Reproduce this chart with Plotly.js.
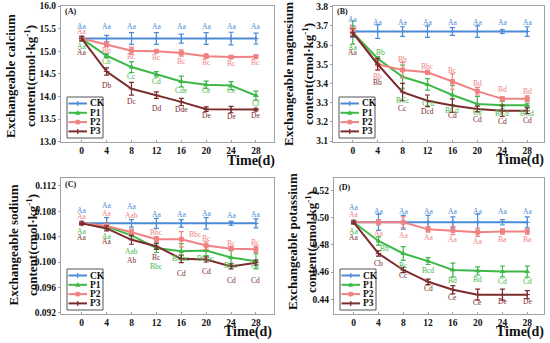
<!DOCTYPE html>
<html>
<head>
<meta charset="utf-8">
<script src="https://cdn.plot.ly/plotly-3.0.1.min.js"></script>
<style>html,body{margin:0;padding:0;background:#fff;}#chart{width:550px;height:343px;}</style>
</head>
<body>
<div id="chart"></div>
<script>
// ---------- DATA ----------
const time = [0, 4, 8, 12, 16, 20, 24, 28];
const seriesNames = ['CK', 'P1', 'P2', 'P3'];
const xTickLabels = ['0', '4', '8', '12', '16', '20', '24', '28'];

// (A) Exchangeable calcium
const caCK = [15.28, 15.28, 15.28, 15.28, 15.28, 15.28, 15.28, 15.28];
const caP1 = [15.28, 14.90, 14.65, 14.49, 14.33, 14.26, 14.24, 14.02];
const caP2 = [15.28, 15.15, 15.01, 15.00, 14.96, 14.89, 14.87, 14.88];
const caP3 = [15.28, 14.55, 14.17, 14.03, 13.88, 13.72, 13.71, 13.71];
const caCKerr = [0.05, 0.07, 0.13, 0.13, 0.10, 0.13, 0.14, 0.12];
const caP1err = [0.03, 0.04, 0.12, 0.06, 0.12, 0.08, 0.09, 0.10];
const caP2err = [0.03, 0.05, 0.08, 0.02, 0.07, 0.05, 0.02, 0.03];
const caP3err = [0.05, 0.08, 0.14, 0.07, 0.08, 0.05, 0.07, 0.03];
const caCKlab = ['Aa', 'Aa', 'Aa', 'Aa', 'Aa', 'Aa', 'Aa', 'Aa'];
const caP1lab = ['Aa', 'Cb', 'Cc', 'Cd', 'Cde', 'Ce', 'Ce', 'Cf'];
const caP2lab = ['Aa', 'Bb', 'Bc', 'Bc', 'Bc', 'Bc', 'Bc', 'Bc'];
const caP3lab = ['Aa', 'Db', 'Dc', 'Dd', 'Dde', 'De', 'De', 'De'];

// (B) Exchangeable magnesium
const mgCK = [3.67, 3.67, 3.67, 3.67, 3.67, 3.67, 3.67, 3.67];
const mgP1 = [3.665, 3.53, 3.435, 3.395, 3.34, 3.293, 3.287, 3.287];
const mgP2 = [3.665, 3.50, 3.47, 3.458, 3.41, 3.36, 3.32, 3.32];
const mgP3 = [3.665, 3.50, 3.355, 3.31, 3.285, 3.267, 3.258, 3.258];
const mgCKerr = [0.03, 0.035, 0.025, 0.03, 0.02, 0.03, 0.01, 0.025];
const mgP1err = [0.06, 0.01, 0.06, 0.03, 0.05, 0.04, 0.02, 0.01];
const mgP2err = [0.02, 0.03, 0.04, 0.01, 0.04, 0.02, 0.01, 0.015];
const mgP3err = [0.02, 0.03, 0.045, 0.03, 0.035, 0.015, 0.03, 0.015];
const mgCKlab = ['Aa', 'Aa', 'Aa', 'Aa', 'Aa', 'Aa', 'Aa', 'Aa'];
const mgP1lab = ['Aa', 'Bb', 'BCc', 'Ccd', 'BCd', 'Cd', 'BCd', 'BCd'];
const mgP2lab = ['Aa', 'Bb', 'Bb', 'Bbc', 'Bc', 'Bd', 'Bd', 'Bd'];
const mgP3lab = ['Aa', 'Bb', 'Cc', 'Dcd', 'Cd', 'Cd', 'Cd', 'Cd'];

// (C) Exchangeable sodium
const naCK = [0.1061, 0.1061, 0.1061, 0.1061, 0.1061, 0.1061, 0.1061, 0.1061];
const naP1 = [0.1061, 0.1056, 0.1042, 0.1022, 0.1017, 0.1018, 0.1007, 0.1001];
const naP2 = [0.1061, 0.1057, 0.1047, 0.1036, 0.1036, 0.1026, 0.1021, 0.1020];
const naP3 = [0.1061, 0.1053, 0.1035, 0.1025, 0.1005, 0.1004, 0.0993, 0.0999];
const naCKerr = [0.0003, 0.0009, 0.0006, 0.0008, 0.0006, 0.0009, 0.0003, 0.0007];
const naP1err = [0.0002, 0.0003, 0.0006, 0.0007, 0.0012, 0.0008, 0.0013, 0.0012];
const naP2err = [0.0002, 0.0003, 0.0005, 0.0004, 0.0012, 0.0006, 0.0003, 0.0005];
const naP3err = [0.0002, 0.0004, 0.0007, 0.0005, 0.0006, 0.0004, 0.0004, 0.0004];
const naCKlab = ['Aa', 'Aa', 'Aa', 'Aa', 'Aa', 'Aa', 'Aa', 'Aa'];
const naP1lab = ['Aa', 'Aa', 'Aab', 'Bbc', 'BCbc', 'BCbc', 'BCc', 'Cc'];
const naP2lab = ['Aa', 'Aa', 'Aab', 'Bbc', 'Bbc', 'Bc', 'Bc', 'Bc'];
const naP3lab = ['Aa', 'Aa', 'Ab', 'Bc', 'Cd', 'Cd', 'Cd', 'Cd'];

// (D) Exchangeable potassium
const kCK = [0.4965, 0.4965, 0.4965, 0.4965, 0.4965, 0.4965, 0.4965, 0.4965];
const kP1 = [0.4965, 0.4828, 0.4736, 0.4680, 0.4615, 0.4608, 0.4604, 0.4603];
const kP2 = [0.4965, 0.4965, 0.4965, 0.4913, 0.4905, 0.4892, 0.4897, 0.4897];
const kP3 = [0.4965, 0.4736, 0.4615, 0.4528, 0.4470, 0.4434, 0.4434, 0.4434];
const kCKerr = [0.0015, 0.006, 0.005, 0.005, 0.004, 0.006, 0.002, 0.004];
const kP1err = [0.001, 0.003, 0.005, 0.0025, 0.005, 0.003, 0.004, 0.004];
const kP2err = [0.001, 0.002, 0.004, 0.002, 0.003, 0.003, 0.002, 0.002];
const kP3err = [0.001, 0.002, 0.002, 0.002, 0.003, 0.004, 0.004, 0.003];
const kCKlab = ['Aa', 'Aa', 'Aa', 'Aa', 'Aa', 'Aa', 'Aa', 'Aa'];
const kP1lab = ['Aa', 'Bb', 'Bc', 'Bcd', 'Bd', 'Bd', 'Cd', 'Cd'];
const kP2lab = ['Aa', 'Aa', 'Aa', 'Aa', 'Aa', 'Aa', 'Ba', 'Ba'];
const kP3lab = ['Aa', 'Cb', 'Cc', 'Cd', 'Ce', 'Ce', 'De', 'De'];

// ---------- STYLE / LAYOUT (positions, not data) ----------
const colors = {CK: '#4a8ad6', P1: '#3fb84a', P2: '#f08282', P3: '#7c2c2c'};
const symbols = {CK: 'cross-thin-open', P1: 'triangle-up', P2: 'square', P3: 'cross-thin-open'};
const serif = 'Liberation Serif, Times New Roman, serif';
const W = 550, H = 343;

// label vertical offsets in px (positive = up) and horizontal offsets
const labelDy = {
  A: {CK: [12,12,12,12,12,12,12,12], P1: [-8,-6,-9,-7,-9,-6,-5,-8], P2: [7,-6,-6,-6,-8,-6,-6,-6], P3: [-14,-14,-13,-13,-8,-6,-7,-6]},
  B: {CK: [12,9,9,9,9,9,9,9], P1: [-15,6,-24,-19,-15.5,-8,-8,-8], P2: [5,-12,11,6,11,8,9,7], P3: [-20,-18,-16,-10.5,-10,-10,-11,-10]},
  C: {CK: [12.6,18,16.6,9,9,10,8,9], P1: [-7.7,-9.6,-16,-18,-7.7,-7.6,-8,-4], P2: [7,12,17,6.5,4.5,7.5,5.6,6.6], P3: [-14.4,-13.5,-21,-11.3,-14.5,-12,-14,-18]},
  D: {CK: [15,10.7,10.7,10.7,10.7,10.7,10.7,10.7], P1: [-9.3,-7.6,-12,-9,-10.5,-8.6,-9.7,-9.7], P2: [7.3,-11.5,-12.8,-8.3,-9.5,-9.7,-7.8,-7.8], P3: [-15,-10,-5.5,-7,-8,-8.3,-7.3,-7.3]}
};
const labelDx = {
  A: {}, B: {P1: [0,3,0,0,0,0,0,0]}, C: {P2: [0,0,0,0,14,0,0,0]}, D: {P1: [0,6,0,0,0,0,0,0]}
};

const panels = [
  {key: 'A', n: '', left: 61, right: 274, top: 6, bottom: 141.7, xr: [-3.33, 30.9], yr: [13, 16], tick0: 13, dtick: 0.5, fmt: '.1f',
   t1: 'Exchangeable calcium', t1x: 10, t2x: 30, tcy: 76, timeX: 251, timeY: 161, tagX: 63, tagY: 11.5,
   vals: {CK: caCK, P1: caP1, P2: caP2, P3: caP3}, errs: {CK: caCKerr, P1: caP1err, P2: caP2err, P3: caP3err},
   labs: {CK: caCKlab, P1: caP1lab, P2: caP2lab, P3: caP3lab}},
  {key: 'B', n: '2', left: 333, right: 544, top: 6, bottom: 141.7, xr: [-3.17, 30.7], yr: [3.097, 3.803], tick0: 3.1, dtick: 0.1, fmt: '.1f',
   t1: 'Exchangeable magnesium', t1x: 289, t2x: 308, tcy: 74, timeX: 519.5, timeY: 160, tagX: 335, tagY: 12,
   vals: {CK: mgCK, P1: mgP1, P2: mgP2, P3: mgP3}, errs: {CK: mgCKerr, P1: mgP1err, P2: mgP2err, P3: mgP3err},
   labs: {CK: mgCKlab, P1: mgP1lab, P2: mgP2lab, P3: mgP3lab}},
  {key: 'C', n: '3', left: 61, right: 274, top: 178, bottom: 313.7, xr: [-3.33, 30.9], yr: [0.09184, 0.11326], tick0: 0.092, dtick: 0.004, fmt: '.3f',
   t1: 'Exchangeable sodium', t1x: 12.5, t2x: 32, tcy: 245, timeX: 248, timeY: 332, tagX: 63, tagY: 184,
   vals: {CK: naCK, P1: naP1, P2: naP2, P3: naP3}, errs: {CK: naCKerr, P1: naP1err, P2: naP2err, P3: naP3err},
   labs: {CK: naCKlab, P1: naP1lab, P2: naP2lab, P3: naP3lab}},
  {key: 'D', n: '4', left: 334, right: 544, top: 178, bottom: 313.7, xr: [-3.17, 30.7], yr: [0.4294, 0.529], tick0: 0.44, dtick: 0.02, fmt: '.2f',
   t1: 'Exchangeable potassium', t1x: 292, t2x: 311, tcy: 242, timeX: 520, timeY: 332, tagX: 337, tagY: 187,
   vals: {CK: kCK, P1: kP1, P2: kP2, P3: kP3}, errs: {CK: kCKerr, P1: kP1err, P2: kP2err, P3: kP3err},
   labs: {CK: kCKlab, P1: kP1lab, P2: kP2lab, P3: kP3lab}}
];

const px = x => x / W;
const py = y => 1 - y / H;

const traces = [];
const layout = {
  width: W, height: H, margin: {l: 0, r: 0, t: 0, b: 0},
  paper_bgcolor: '#fff', plot_bgcolor: '#fff', showlegend: false,
  annotations: [], shapes: [], font: {family: serif}
};

panels.forEach(p => {
  const xa = 'x' + p.n, ya = 'y' + p.n;
  const axBase = {
    showline: true, mirror: true, linecolor: '#a0a0a0', linewidth: 1,
    showgrid: false, zeroline: false, ticklen: 2, tickcolor: '#a0a0a0',
    tickfont: {family: serif, size: 9.5, color: '#111', weight: 'bold'}
  };
  layout['xaxis' + p.n] = Object.assign({}, axBase, {
    domain: [px(p.left), px(p.right)], range: p.xr, anchor: ya, ticks: 'inside',
    tickmode: 'array', tickvals: time, ticktext: xTickLabels
  });
  layout['yaxis' + p.n] = Object.assign({}, axBase, {
    domain: [py(p.bottom), py(p.top)], range: p.yr, anchor: xa, ticks: 'outside',
    tick0: p.tick0, dtick: p.dtick, tickformat: p.fmt
  });

  seriesNames.forEach(s => {
    traces.push({
      type: 'scatter', mode: 'lines+markers', name: s, x: time, y: p.vals[s],
      xaxis: xa, yaxis: ya,
      line: {color: colors[s], width: 2},
      marker: {color: colors[s], size: 4, symbol: symbols[s], line: {color: colors[s], width: 1}},
      error_y: {type: 'data', array: p.errs[s], visible: true, color: colors[s], thickness: 1.2, width: 2.5}
    });
  });

  // significance labels
  ['CK', 'P2', 'P1', 'P3'].forEach(s => {
    p.labs[s].forEach((t, i) => {
      const dx = (labelDx[p.key][s] || [])[i] || 0;
      layout.annotations.push({
        xref: xa, yref: ya, x: time[i], y: p.vals[s][i], text: t, showarrow: false,
        yshift: labelDy[p.key][s][i], xshift: dx,
        font: {family: serif, size: 7.5, color: colors[s]}
      });
    });
  });

  // axis titles
  const tfont = {family: serif, size: 13, color: '#111', weight: 'bold'};
  layout.annotations.push({xref: 'paper', yref: 'paper', x: px(p.t1x), y: py(p.tcy), text: p.t1,
    textangle: -90, showarrow: false, xanchor: 'center', yanchor: 'middle', font: tfont});
  layout.annotations.push({xref: 'paper', yref: 'paper', x: px(p.t2x), y: py(p.tcy), text: 'content(cmol·kg<sup>-1</sup>)',
    textangle: -90, showarrow: false, xanchor: 'center', yanchor: 'middle', font: tfont});
  layout.annotations.push({xref: 'paper', yref: 'paper', x: px(p.timeX), y: py(p.timeY), text: 'Time(d)',
    showarrow: false, xanchor: 'center', yanchor: 'middle', font: {family: serif, size: 14, color: '#111', weight: 'bold'}});
  layout.annotations.push({xref: 'paper', yref: 'paper', x: px(p.tagX), y: py(p.tagY), text: '(' + p.key + ')',
    showarrow: false, xanchor: 'left', yanchor: 'middle', font: {family: serif, size: 8, color: '#111', weight: 'bold'}});

  // legend box (drawn with shapes + text so its compact size matches)
  const lx = p.left + 6, ly = p.top + 91, lw = 36, lh = 41;
  layout.shapes.push({type: 'rect', xref: 'paper', yref: 'paper', x0: px(lx), x1: px(lx + lw), y0: py(ly + lh), y1: py(ly),
    line: {color: '#555', width: 1}, fillcolor: '#fff', layer: 'above'});
  seriesNames.forEach((s, i) => {
    const ry = ly + 6.5 + i * 9.3;
    const c = colors[s];
    layout.shapes.push({type: 'line', xref: 'paper', yref: 'paper', x0: px(lx + 1.5), x1: px(lx + 20), y0: py(ry), y1: py(ry),
      line: {color: c, width: 2}, layer: 'above'});
    const mx = lx + 10.75;
    if (s === 'P2') {
      layout.shapes.push({type: 'rect', xref: 'paper', yref: 'paper', x0: px(mx - 2), x1: px(mx + 2), y0: py(ry + 2), y1: py(ry - 2),
        line: {color: c, width: 0.5}, fillcolor: c, layer: 'above'});
    } else if (s === 'P1') {
      layout.shapes.push({type: 'path', xref: 'paper', yref: 'paper',
        path: `M ${px(mx - 2.2)} ${py(ry + 1.8)} L ${px(mx + 2.2)} ${py(ry + 1.8)} L ${px(mx)} ${py(ry - 2.2)} Z`,
        line: {color: c, width: 0.5}, fillcolor: c, layer: 'above'});
    } else {
      layout.shapes.push({type: 'line', xref: 'paper', yref: 'paper', x0: px(mx), x1: px(mx), y0: py(ry + 2.5), y1: py(ry - 2.5),
        line: {color: c, width: 1.2}, layer: 'above'});
    }
    layout.annotations.push({xref: 'paper', yref: 'paper', x: px(lx + 21), y: py(ry), text: s, showarrow: false,
      xanchor: 'left', yanchor: 'middle', font: {family: serif, size: 9.5, color: '#111', weight: 'bold'}});
  });
});

Plotly.newPlot('chart', traces, layout, {staticPlot: true, displayModeBar: false});
</script>
</body>
</html>
